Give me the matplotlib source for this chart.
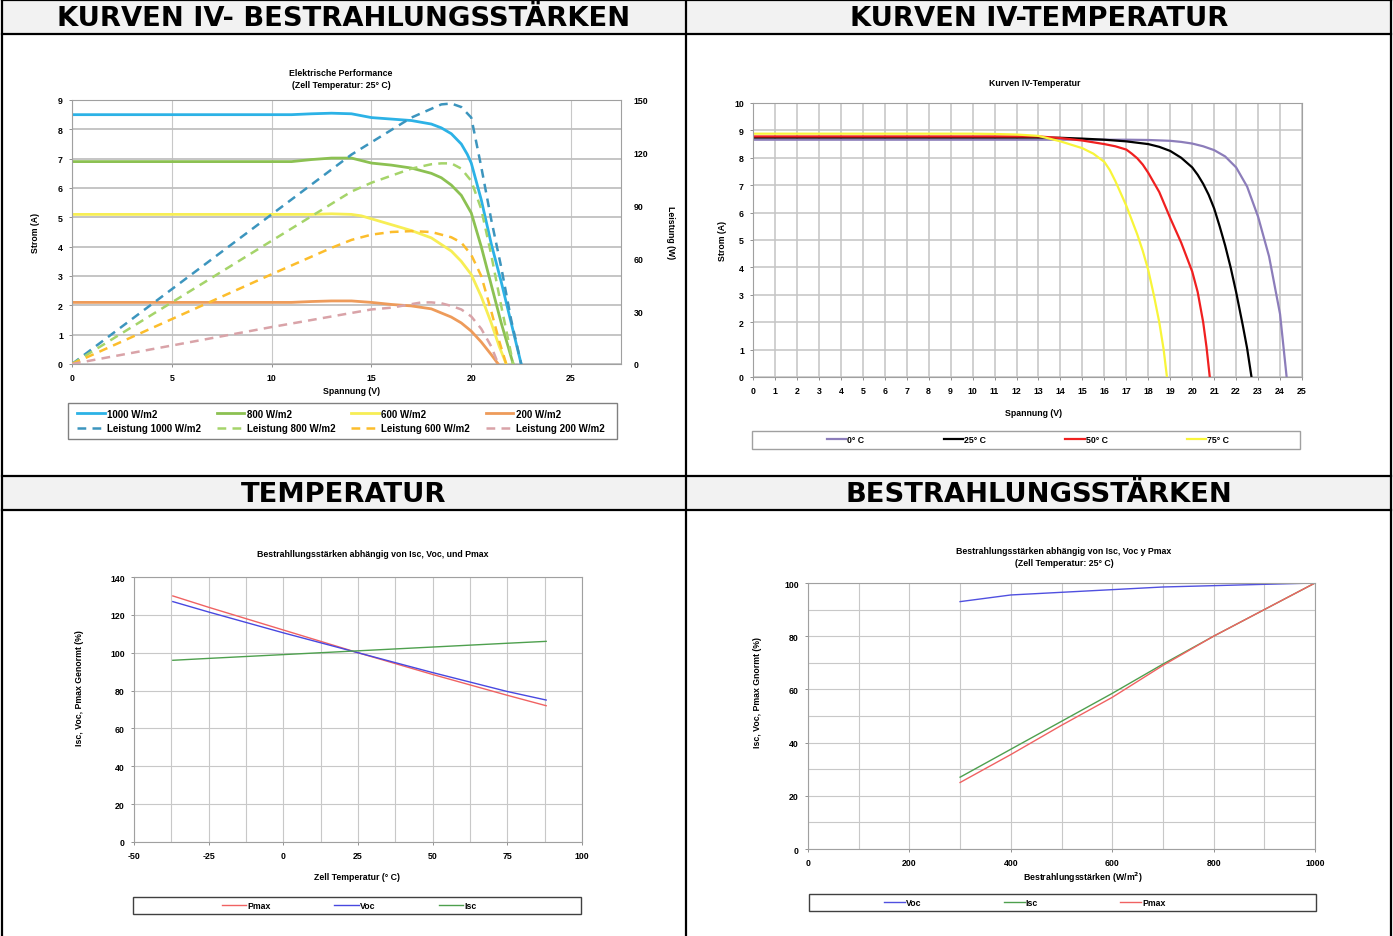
import matplotlib
matplotlib.use('Agg')
import matplotlib.pyplot as plt
from matplotlib.lines import Line2D
from matplotlib.patches import Rectangle
from matplotlib.ticker import MultipleLocator

W, H = 1393, 937

# --- Kurven IV - Bestrahlungsstaerken (Strom) ---
v_1000 = [0, 5, 10, 11, 12, 13, 14, 15, 16, 17, 18, 18.5, 19, 19.5, 19.8, 20, 20.5, 21, 21.5, 22, 22.5]
i_1000 = [8.5, 8.5, 8.5, 8.5, 8.53, 8.55, 8.53, 8.4, 8.35, 8.3, 8.18, 8.05, 7.85, 7.5, 7.15, 6.85, 5.6, 4.1, 2.8, 1.4, 0]
v_800 = [0, 5, 10, 11, 12, 13, 14, 15, 16, 17, 18, 18.5, 19, 19.5, 20, 20.5, 21, 21.5, 22.1]
i_800 = [6.9, 6.9, 6.9, 6.9, 6.97, 7.02, 7.02, 6.85, 6.78, 6.68, 6.5, 6.35, 6.1, 5.75, 5.15, 4.0, 2.7, 1.4, 0]
v_600 = [0, 5, 10, 12, 13, 14, 14.5, 15, 16, 17, 18, 19, 19.5, 20, 20.5, 21, 21.4, 21.75]
i_600 = [5.1, 5.1, 5.1, 5.1, 5.12, 5.1, 5.05, 4.95, 4.75, 4.55, 4.3, 3.85, 3.5, 3.05, 2.3, 1.4, 0.6, 0]
v_200 = [0, 5, 10, 11, 12, 13, 14, 15, 16, 17, 18, 19, 19.5, 20, 20.5, 21, 21.35]
i_200 = [2.1, 2.1, 2.1, 2.1, 2.13, 2.15, 2.15, 2.1, 2.03, 1.98, 1.88, 1.6, 1.4, 1.12, 0.75, 0.32, 0]

# --- Leistung ---
pv_1000 = [0, 5, 10, 12, 14, 15, 16, 17, 18, 18.5, 19, 19.5, 20, 20.5, 21, 21.5, 22, 22.5]
p_1000 = [0, 42.5, 85, 102, 119, 126, 133, 140, 145, 147.5, 148, 146, 140, 112, 82, 55, 25, 0]
pv_800 = [0, 5, 10, 12, 13, 14, 15, 16, 17, 18, 18.5, 19, 19.5, 20, 20.5, 21, 21.5, 22.1]
p_800 = [0, 35, 70, 84, 91, 98, 103, 107, 111, 113.5, 114, 114, 111, 104, 88, 62, 33, 0]
pv_600 = [0, 5, 10, 12, 13, 14, 15, 16, 17, 18, 19, 19.5, 20, 20.5, 21, 21.4, 21.75]
p_600 = [0, 25.5, 51, 61, 66, 70.5, 73.5, 75, 75.5, 75, 72, 69, 62, 50, 30, 13, 0]
pv_200 = [0, 5, 10, 12, 13, 14, 15, 16, 17, 17.5, 18, 18.5, 19, 19.5, 20, 20.5, 21, 21.35]
p_200 = [0, 10.5, 21, 25, 27, 29, 31, 32, 34, 35, 35, 34.5, 33, 31, 27, 20, 10, 0]

# --- Kurven IV - Temperatur ---
v_t0 = [0, 5, 10, 15, 17, 18, 19, 19.5, 20, 20.5, 21, 21.5, 22, 22.5, 23, 23.5, 24, 24.3]
i_t0 = [8.66, 8.66, 8.66, 8.66, 8.66, 8.65, 8.62, 8.58, 8.52, 8.42, 8.28, 8.05, 7.65, 6.95, 5.85, 4.4, 2.3, 0]
v_t25 = [0, 5, 10, 13, 14, 15, 16, 17, 18, 18.5, 19, 19.5, 20, 20.25, 20.5, 20.75, 21, 21.25, 21.5, 21.75, 22, 22.3, 22.5, 22.7]
i_t25 = [8.74, 8.74, 8.74, 8.74, 8.73, 8.7, 8.66, 8.6, 8.5, 8.4, 8.25, 8.0, 7.65, 7.38, 7.05, 6.65, 6.15, 5.5, 4.8, 4.0, 3.1, 1.9, 1.05, 0]
v_t50 = [0, 5, 10, 13, 14, 15, 16, 16.5, 17, 17.25, 17.5, 17.75, 18, 18.5, 19, 19.5, 20, 20.25, 20.5, 20.65, 20.8]
i_t50 = [8.78, 8.78, 8.78, 8.78, 8.72, 8.63, 8.5, 8.42, 8.3, 8.15, 7.98, 7.75, 7.45, 6.75, 5.8, 4.9, 3.85, 3.1, 2.0, 1.1, 0]
v_t75 = [0, 5, 10, 11, 12, 13, 14, 15, 15.5, 16, 16.25, 16.5, 16.75, 17, 17.5, 17.75, 18, 18.25, 18.5, 18.7, 18.85]
i_t75 = [8.88, 8.88, 8.88, 8.87, 8.85, 8.8, 8.6, 8.35, 8.15, 7.85, 7.55, 7.15, 6.7, 6.25, 5.2, 4.6, 3.9, 3.0, 2.0, 1.0, 0]

# --- Temperatur ---
temp = [-37, -25, 0, 25, 50, 75, 88]
t_pmax = [130, 124, 112, 100, 88.5, 77.5, 72]
t_voc = [127, 121.5, 110.5, 100, 89.5, 79.5, 75]
t_isc = [96, 97, 99, 101, 103, 105, 106]

# --- Bestrahlungsstaerken ---
irr = [300, 400, 500, 600, 700, 800, 900, 1000]
b_voc = [93, 95.5, 96.5, 97.5, 98.5, 99, 99.5, 100]
b_isc = [27, 37.5, 48, 58.5, 69.5, 80, 90, 100]
b_pmax = [25, 35.5, 46.5, 57, 69, 80, 90, 100]

plt.rcParams['font.family'] = ['Liberation Sans', 'DejaVu Sans']
plt.rcParams['font.weight'] = 'bold'
plt.rcParams['axes.unicode_minus'] = False
FS = 6.3

fig = plt.figure(figsize=(W / 100, H / 100), dpi=100)
fig.patch.set_facecolor('white')


def fx(x):
    return x / W


def fy(y):
    return 1 - y / H


def add_ax(l, t, r, b):
    return fig.add_axes([fx(l), fy(b), (r - l) / W, (b - t) / H])


def ptxt(x, y, s, size=FS, rot=0, **kw):
    fig.text(fx(x), fy(y), s, ha='center', va='center', fontsize=size,
             rotation=rot, fontweight='bold', **kw)


def box(l, t, r, b, ec='#808080'):
    fig.add_artist(Rectangle((fx(l), fy(b)), (r - l) / W, (b - t) / H,
                             transform=fig.transFigure, facecolor='white',
                             edgecolor=ec, lw=1.0, zorder=1))


def style(ax, gridc='#C8C8C8'):
    for s in ax.spines.values():
        s.set_color('#A0A0A0')
        s.set_linewidth(0.8)
    ax.tick_params(labelsize=FS, length=2.5, width=0.6, color='#808080', pad=4)
    ax.grid(True, which='both', color=gridc, lw=0.8)
    ax.set_axisbelow(True)


# table background and lines
for (t, b) in [(1, 35), (477, 511)]:
    fig.add_artist(Rectangle((fx(2), fy(b)), (1391 - 2) / W, (b - t) / H,
                             transform=fig.transFigure, facecolor='#F2F2F2',
                             edgecolor='none', zorder=0))
lk = dict(color='black', lw=1.6, transform=fig.transFigure, zorder=5)
for y in [1, 35, 477, 511]:
    fig.add_artist(Line2D([fx(2), fx(1391)], [fy(y), fy(y)], **lk))
for x in [2, 686, 1391]:
    fig.add_artist(Line2D([fx(x), fx(x)], [fy(1), fy(937)], **lk))

hk = dict(size=19.7, family='DejaVu Sans')
ptxt(344, 19, 'KURVEN IV- BESTRAHLUNGSSTÄRKEN', **hk)
ptxt(1039, 19, 'KURVEN IV-TEMPERATUR', **hk)
ptxt(344, 495, 'TEMPERATUR', **hk)
ptxt(1039, 495, 'BESTRAHLUNGSSTÄRKEN', **hk)

# ---------------- panel 1 ----------------
ax1 = add_ax(72, 101, 621, 365)
style(ax1)
ax1.xaxis.set_major_locator(MultipleLocator(5))
ax1.yaxis.set_major_locator(MultipleLocator(1))
ax1.grid(True, axis='y', color='#C0C0C0', lw=1.3)
ax1.set_xlim(0, 27.5)
ax1.set_ylim(0, 9)
ax2 = ax1.twinx()
ax2.set_ylim(0, 150)
ax2.yaxis.set_major_locator(MultipleLocator(30))
ax2.tick_params(labelsize=FS, length=0, pad=9)
for s in ax2.spines.values():
    s.set_visible(False)

dash = (0, (3.5, 2.5))
c = ['#2CB2E6', '#8CC152', '#F7EE55', '#EE9B5A']
cp = ['#3C95BE', '#A5D46A', '#FCBD2C', '#D9A3A8']
h = []
for vv, ii, col, lab in [(v_1000, i_1000, c[0], '1000 W/m2'), (v_800, i_800, c[1], '800 W/m2'),
                         (v_600, i_600, c[2], '600 W/m2'), (v_200, i_200, c[3], '200 W/m2')]:
    h.append(ax1.plot(vv, ii, color=col, lw=2.0, label=lab)[0])
hp = []
for vv, pp, col, lab in [(pv_1000, p_1000, cp[0], 'Leistung 1000 W/m2'),
                         (pv_800, p_800, cp[1], 'Leistung 800 W/m2'),
                         (pv_600, p_600, cp[2], 'Leistung 600 W/m2'),
                         (pv_200, p_200, cp[3], 'Leistung 200 W/m2')]:
    hp.append(ax2.plot(vv, pp, color=col, lw=1.8, ls=dash, label=lab)[0])

ptxt(341, 74, 'Elektrische Performance')
ptxt(341, 86, '(Zell Temperatur: 25° C)')
ptxt(35, 233, 'Strom (A)', rot=90)
ptxt(670, 233, 'Leistung (W)', rot=270)
ptxt(352, 392, 'Spannung (V)')
box(68, 404, 617, 440)
hh = [h[0], hp[0], h[1], hp[1], h[2], hp[2], h[3], hp[3]]
fig.legend(hh, [x.get_label() for x in hh], loc='center', ncol=4,
           bbox_to_anchor=(fx(341), fy(422)), frameon=False, fontsize=7,
           handlelength=2.8, handletextpad=0.3, columnspacing=1.6,
           labelspacing=0.45)

# ---------------- panel 2 ----------------
ax3 = add_ax(753, 104, 1302, 378)
style(ax3, gridc='#C4C4C4')
ax3.set_xlim(0, 25)
ax3.set_ylim(0, 10)
ax3.xaxis.set_major_locator(MultipleLocator(1))
ax3.yaxis.set_major_locator(MultipleLocator(1))
ax3.grid(True, color='#C4C4C4', lw=1.1)
h2 = []
for vv, ii, col, lab in [(v_t0, i_t0, '#8C7DBA', '0° C'), (v_t25, i_t25, '#000000', '25° C'),
                         (v_t50, i_t50, '#F02020', '50° C'), (v_t75, i_t75, '#F8F53A', '75° C')]:
    h2.append(ax3.plot(vv, ii, color=col, lw=1.6, label=lab)[0])
ptxt(1035, 83, 'Kurven IV-Temperatur')
ptxt(722, 241, 'Strom (A)', rot=90)
ptxt(1034, 414, 'Spannung (V)')
box(752, 432, 1300, 450, ec='#A0A0A0')
fig.legend(h2, [x.get_label() for x in h2], loc='center', ncol=4,
           bbox_to_anchor=(fx(1028), fy(441)), frameon=False, fontsize=FS,
           handlelength=2.2, handletextpad=0.1, columnspacing=9.1)

# ---------------- panel 3 ----------------
ax4 = add_ax(134, 578, 582, 843)
style(ax4)
ax4.set_xlim(-50, 100)
ax4.set_ylim(0, 140)
ax4.xaxis.set_major_locator(MultipleLocator(25))
ax4.xaxis.set_minor_locator(MultipleLocator(12.5))
ax4.yaxis.set_major_locator(MultipleLocator(20))
ax4.tick_params(which='minor', length=0)
h3 = [ax4.plot(temp, t_pmax, color='#F06262', lw=1.0, label='Pmax')[0],
      ax4.plot(temp, t_voc, color='#4848E0', lw=1.0, label='Voc')[0],
      ax4.plot(temp, t_isc, color='#4EA04E', lw=1.0, label='Isc')[0]]
ptxt(373, 555, 'Bestrahllungsstärken abhängig von Isc, Voc, und Pmax')
ptxt(80, 688, 'Isc, Voc, Pmax Genormt (%)', rot=90)
ptxt(357, 878, 'Zell Temperatur (° C)')
box(133, 898, 581, 915, ec='#404040')
fig.legend(h3, [x.get_label() for x in h3], loc='center', ncol=3,
           bbox_to_anchor=(fx(349), fy(907)), frameon=False, fontsize=FS,
           handlelength=2.8, handletextpad=0.1, columnspacing=7.3)

# ---------------- panel 4 ----------------
ax5 = add_ax(808, 584, 1315, 850)
style(ax5)
ax5.set_xlim(0, 1000)
ax5.set_ylim(0, 100)
ax5.xaxis.set_major_locator(MultipleLocator(200))
ax5.xaxis.set_minor_locator(MultipleLocator(100))
ax5.yaxis.set_major_locator(MultipleLocator(20))
ax5.yaxis.set_minor_locator(MultipleLocator(10))
ax5.tick_params(which='minor', length=0)
h4 = [ax5.plot(irr, b_voc, color='#5050E0', lw=1.0, label='Voc')[0],
      ax5.plot(irr, b_isc, color='#4EA04E', lw=1.0, label='Isc')[0],
      ax5.plot(irr, b_pmax, color='#F06262', lw=1.0, label='Pmax')[0]]
ptxt(1064, 551, 'Bestrahlungsstärken abhängig von Isc, Voc y Pmax')
ptxt(1064, 563, '(Zell Temperatur: 25° C)')
ptxt(757, 692, 'Isc, Voc, Pmax Gnormt (%)', rot=90)
ptxt(1083, 878, 'Bestrahlungsstärken (W/m$^2$)')
box(809, 895, 1316, 912, ec='#404040')
fig.legend(h4, [x.get_label() for x in h4], loc='center', ncol=3,
           bbox_to_anchor=(fx(1025), fy(904)), frameon=False, fontsize=FS,
           handlelength=2.4, handletextpad=0.1, columnspacing=9.4)

fig.savefig('out.png', dpi=100)
